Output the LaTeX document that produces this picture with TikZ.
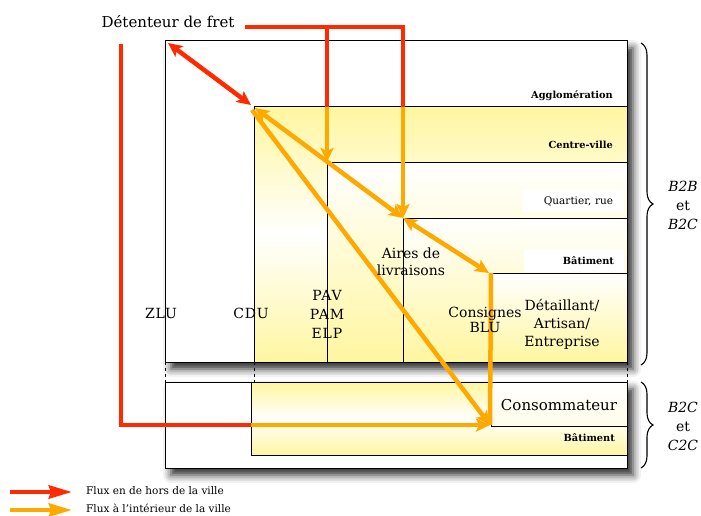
\documentclass[tikz,border=0pt]{standalone}
\usepackage{fontspec}
\setmainfont{DejaVu Serif}
\newfontfamily\spacedfont[LetterSpace=6]{DejaVu Serif}
\usetikzlibrary{arrows.meta,decorations.pathreplacing,shadows.blur}
\definecolor{fred}{RGB}{255,42,0}
\definecolor{forange}{RGB}{255,168,0}
\definecolor{fyel}{RGB}{255,246,160}
\begin{document}
\begin{tikzpicture}[x=1pt,y=-1pt,
  flowline/.style={line width=4.5pt},
  redflow/.style={flowline,draw=fred},
  orflow/.style={flowline,draw=forange},
  headend/.style={-{Stealth[length=14pt,width=13pt,inset=3pt]}},
  headboth/.style={{Stealth[length=14pt,width=13pt,inset=3pt]}-{Stealth[length=14pt,width=13pt,inset=3pt]}},
  legendhead/.style={-{Stealth[length=23pt,width=13pt,inset=2pt]}},
  box/.style={draw=black,line width=1pt},
  shadowbox/.style={box,fill=white,blur shadow={shadow xshift=6pt,shadow yshift=-7pt,shadow blur radius=8pt,shadow opacity=85}},
  gradbox/.style={box,top color=fyel,bottom color=fyel,middle color=white},
  fadebox/.style={box,top color=white,bottom color=fyel},
  smalllab/.style={font=\fontsize{9.8}{11}\selectfont\bfseries,anchor=east,inner sep=0pt},
  whitelab/.style={fill=white,text width=80pt,align=right,inner xsep=10pt,inner ysep=5pt,minimum height=22pt,font=\fontsize{10.5}{12}\selectfont},
  midlab/.style={font=\fontsize{14}{17}\selectfont,align=center,inner sep=0pt},
  spacedlab/.style={font=\fontsize{14}{19}\selectfont\spacedfont,align=center,inner sep=0pt},
  brace/.style={decorate,decoration={brace,amplitude=12pt},line width=1.1pt},
  sidelab/.style={font=\fontsize{14}{19}\selectfont,align=center,inner sep=0pt},
  legendlab/.style={font=\fontsize{10.5}{12}\selectfont,anchor=west,inner sep=0pt}
]
\useasboundingbox (0,0) rectangle (701,516);

% --- coordinates
\coordinate (UL) at (165,41);
\coordinate (UR) at (627,362);
\coordinate (CVa) at (254,107);
\coordinate (Qa) at (327,162);
\coordinate (Ba) at (403,218);
\coordinate (Da) at (489,273);
\coordinate (LL) at (165,382);
\coordinate (LR) at (627,468);
\coordinate (LIa) at (251,382);
\coordinate (LIb) at (627,455);
\coordinate (Ca) at (491,382);
\coordinate (Cb) at (627,426);

% --- boxes
\path[shadowbox] (UL) rectangle (UR);
\path[gradbox] (CVa) rectangle (UR);
\path[fadebox] (Qa) rectangle (UR);
\path[fadebox] (Ba) rectangle (UR);
\path[fadebox] (Da) rectangle (UR);

\path[shadowbox] (LL) rectangle (LR);
\path[gradbox] (LIa) rectangle (LIb);
\path[box,top color=white,bottom color=fyel!25] (Ca) rectangle (Cb);

% --- dashed links between upper and lower parts
\coordinate (d1a) at (165,362); \coordinate (d1b) at (165,382);
\coordinate (d2a) at (254,362); \coordinate (d2b) at (254,382);
\coordinate (d3a) at (627,362); \coordinate (d3b) at (627,382);
\draw[dash pattern=on 3pt off 3pt,line width=0.8pt] (d1a) -- (d1b);
\draw[dash pattern=on 3pt off 3pt,line width=0.8pt] (d2a) -- (d2b);
\draw[dash pattern=on 3pt off 3pt,line width=0.8pt] (d3a) -- (d3b);

% --- flows
\coordinate (r0) at (245,27);
\coordinate (r1) at (327,27);
\coordinate (r2) at (403,27);
\coordinate (r1b) at (327,107);
\coordinate (r2b) at (403,107);
\coordinate (zl) at (168,43);
\coordinate (cv1) at (251,105);
\coordinate (o1) at (255,108);
\coordinate (o2) at (252,110);
\coordinate (vt) at (121,44);
\coordinate (vb) at (121,425);
\coordinate (hb) at (251,425);
\coordinate (cons) at (490,425);
\coordinate (cv2) at (491,273);

\draw[redflow,line join=miter] (r0) -- (r2) -- (r2b);
\draw[redflow] (r1) -- (r1b);
\draw[orflow,headend] (r1b) -- (Qa);
\draw[orflow,headend] (r2b) -- (Ba);
\draw[redflow,headboth] (zl) -- (cv1);
\draw[orflow,headboth] (o1) -- (Ba);
\draw[orflow,headboth] (Ba) -- (Da);
\draw[orflow] (cv2) -- (cons);
\draw[orflow,headend] (o2) -- (cons);
\draw[redflow,line join=miter] (vt) -- (vb) -- (hb);
\draw[orflow,headend] (hb) -- (cons);

% --- texts
\node[font=\fontsize{15}{18}\selectfont] (det) at (168,22) {Détenteur de fret};
\node[smalllab] (aggl) at (613,96) {Agglomération};
\node[smalllab] (cville) at (613,145) {Centre-ville};
\node[whitelab] (quart) at (573,201) {Quartier, rue};
\node[whitelab,font=\fontsize{9.8}{11}\selectfont\bfseries] (bat1) at (574,261) {Bâtiment};
\node[smalllab] (bat2) at (615,438) {Bâtiment};

\node[spacedlab] (zlu) at (161,313) {ZLU};
\node[spacedlab] (cdu) at (251,313) {CDU};
\node[spacedlab] (pav) at (327,314) {PAV\\PAM\\ELP};
\node[midlab] (aires) at (411,262) {Aires de\\livraisons};
\node[midlab,font=\fontsize{14}{15}\selectfont] (consig) at (485,320) {Consignes\\BLU};
\node[midlab,font=\fontsize{14}{18}\selectfont] (detail) at (562,324) {Détaillant/\\Artisan/\\Entreprise};
\node[midlab,font=\fontsize{15}{18}\selectfont] (conso) at (559,405) {Consommateur};

% --- braces
\coordinate (b1a) at (641,43); \coordinate (b1b) at (641,365);
\coordinate (b2a) at (641,382); \coordinate (b2b) at (641,468);
\draw[brace] (b1a) -- (b1b);
\draw[brace] (b2a) -- (b2b);
\node[sidelab] (bb) at (683,205) {\textit{B2B}\\et\\\textit{B2C}};
\node[sidelab] (bc) at (683,426) {\textit{B2C}\\et\\\textit{C2C}};

% --- legend
\coordinate (l1a) at (10,492); \coordinate (l1b) at (72,492);
\coordinate (l2a) at (10,510); \coordinate (l2b) at (72,510);
\draw[redflow,legendhead] (l1a) -- (l1b);
\draw[orflow,legendhead] (l2a) -- (l2b);
\node[legendlab] (leg1) at (86,491) {Flux en de hors de la ville};
\node[legendlab] (leg2) at (86,508.5) {Flux à l’intérieur de la ville};
\end{tikzpicture}
\end{document}
